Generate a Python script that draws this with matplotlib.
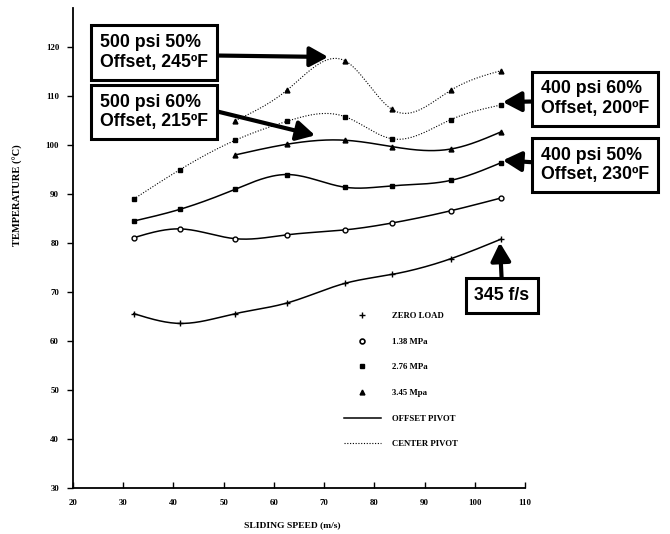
import numpy as np
import matplotlib
matplotlib.use("Agg")
import matplotlib.pyplot as plt
from matplotlib.lines import Line2D

# ----------------------------------------------------------------------
# Data (sliding speed in m/s, temperature in deg C)
# ----------------------------------------------------------------------
speed = [32.1, 41.3, 52.3, 62.7, 74.2, 83.5, 95.2, 105.2]
speed_hi = speed[2:]  # 3.45 MPa runs start at ~52 m/s

zero_load_offset = [65.6, 63.6, 65.6, 67.8, 71.8, 73.6, 76.8, 80.8]
mpa138_offset = [81.1, 82.9, 80.9, 81.7, 82.7, 84.1, 86.6, 89.2]
mpa276_offset = [84.5, 86.9, 91.0, 94.0, 91.4, 91.7, 92.8, 96.4]
mpa345_offset = [98.0, 100.2, 101.0, 99.7, 99.2, 102.7]
mpa276_center = [89.0, 95.0, 101.0, 104.9, 105.8, 101.3, 105.2, 108.2]
mpa345_center = [105.0, 111.3, 117.2, 107.3, 111.2, 115.2]

legend_labels = ["ZERO LOAD", "1.38 MPa", "2.76 MPa", "3.45 Mpa",
                 "OFFSET PIVOT", "CENTER PIVOT"]

callouts = [
    # text, arrow target (data), box centre (fig fraction), arrow start on box
    ("500 psi 50%\nOffset, 245ºF", (70.8, 118.0), (0.2299, 0.9017), (1.0, 0.42)),
    ("500 psi 60%\nOffset, 215ºF", (68.2, 102.0), (0.2299, 0.7900), (1.0, 0.58)),
    ("400 psi 60%\nOffset, 200ºF", (105.6, 108.8), (0.8880, 0.8150), (0.0, 0.43)),
    ("400 psi 50%\nOffset, 230ºF", (105.6, 96.9), (0.8880, 0.6910), (0.0, 0.56)),
    ("345 f/s", (105.0, 80.1), (0.7493, 0.4466), (0.5, 1.0)),
]


def smooth(x, y, n=200):
    """Natural cubic spline through the points, only for drawing the curve."""
    x = np.asarray(x, float)
    y = np.asarray(y, float)
    k = len(x)
    h = np.diff(x)
    A = np.zeros((k, k))
    r = np.zeros(k)
    A[0, 0] = A[-1, -1] = 1.0
    for i in range(1, k - 1):
        A[i, i - 1] = h[i - 1]
        A[i, i] = 2 * (h[i - 1] + h[i])
        A[i, i + 1] = h[i]
        r[i] = 6 * ((y[i + 1] - y[i]) / h[i] - (y[i] - y[i - 1]) / h[i - 1])
    m = np.linalg.solve(A, r)
    xs = np.linspace(x[0], x[-1], n)
    idx = np.clip(np.searchsorted(x, xs) - 1, 0, k - 2)
    t0 = xs - x[idx]
    t1 = x[idx + 1] - xs
    hi = h[idx]
    ys = (m[idx] * t1**3 / (6 * hi) + m[idx + 1] * t0**3 / (6 * hi)
          + (y[idx] / hi - m[idx] * hi / 6) * t1
          + (y[idx + 1] / hi - m[idx + 1] * hi / 6) * t0)
    return xs, ys


fig = plt.figure(figsize=(6.7, 5.34), dpi=100)
ax = fig.add_axes([73 / 670, 1 - 488 / 534, 452 / 670, 480 / 534])

solid = dict(color="black", lw=1.1, ls="-")
dotted = dict(color="black", lw=0.8, ls=(0, (1, 1.5)))

series = [
    (speed, zero_load_offset, "+", solid, "black", 5),
    (speed, mpa138_offset, "o", solid, "white", 3.5),
    (speed, mpa276_offset, "s", solid, "black", 2.5),
    (speed_hi, mpa345_offset, "^", solid, "black", 3.5),
    (speed, mpa276_center, "s", dotted, "black", 2.5),
    (speed_hi, mpa345_center, "^", dotted, "black", 3.5),
]
for xv, yv, mk, style, face, ms in series:
    xs, ys = smooth(xv, yv)
    ax.plot(xs, ys, **style)
    ax.plot(xv, yv, ls="none", marker=mk, ms=ms, color="black",
            mfc=face, mew=1.0)

ax.set_xlim(20, 110)
ax.set_ylim(30, 128)
ax.set_xticks(np.arange(20, 111, 10))
ax.set_yticks(np.arange(30, 121, 10))
for s in ("top", "right"):
    ax.spines[s].set_visible(False)
ax.spines["left"].set_linewidth(1.3)
ax.spines["bottom"].set_linewidth(1.3)
ax.tick_params(axis="x", direction="in", length=4, width=1, pad=8)
ax.tick_params(axis="y", direction="out", length=4, width=1, pad=6)
for lab in ax.get_xticklabels() + ax.get_yticklabels():
    lab.set_fontfamily("Liberation Serif")
    lab.set_fontweight("bold")
    lab.set_fontsize(6.3)

fig.text(292 / 670, 1 - 525 / 534, "SLIDING SPEED (m/s)", ha="center",
         va="center", family="Liberation Serif", weight="bold", size=6.8)
fig.text(18 / 670, 1 - 195 / 534, "TEMPERATURE (°C)", ha="center",
         va="center", rotation=90, family="Liberation Serif", weight="bold",
         size=7.6)

# legend: marker keys for load, line keys for pivot type
handles = [
    Line2D([], [], ls="none", marker="+", ms=5, color="black"),
    Line2D([], [], ls="none", marker="o", ms=3.5, color="black", mfc="white", mew=1.2),
    Line2D([], [], ls="none", marker="s", ms=2.5, color="black"),
    Line2D([], [], ls="none", marker="^", ms=3.5, color="black"),
    Line2D([], [], **solid),
    Line2D([], [], **dotted),
]
ax.legend(handles, legend_labels, loc="upper left",
          bbox_to_anchor=(344 / 670, 1 - 312 / 534),
          bbox_transform=fig.transFigure, frameon=False, borderpad=0,
          borderaxespad=0, handlelength=4.2, handletextpad=1.3,
          labelspacing=2.0, prop=dict(family="Liberation Serif",
                                       weight="bold", size=6.3))

for text, target, centre, rel in callouts:
    ax.annotate(text, xy=target, xycoords="data", xytext=centre,
                textcoords="figure fraction", ha="center", va="center",
                multialignment="left", family="Liberation Sans",
                weight="bold", size=12.8, linespacing=1.2,
                bbox=dict(boxstyle="square,pad=0.5", fc="white",
                          ec="black", lw=2.2),
                arrowprops=dict(arrowstyle="-|>,head_length=0.55,head_width=0.3",
                                lw=3, color="black", mutation_scale=20,
                                relpos=rel, shrinkA=0, shrinkB=0))

fig.savefig("out.png", dpi=100)
